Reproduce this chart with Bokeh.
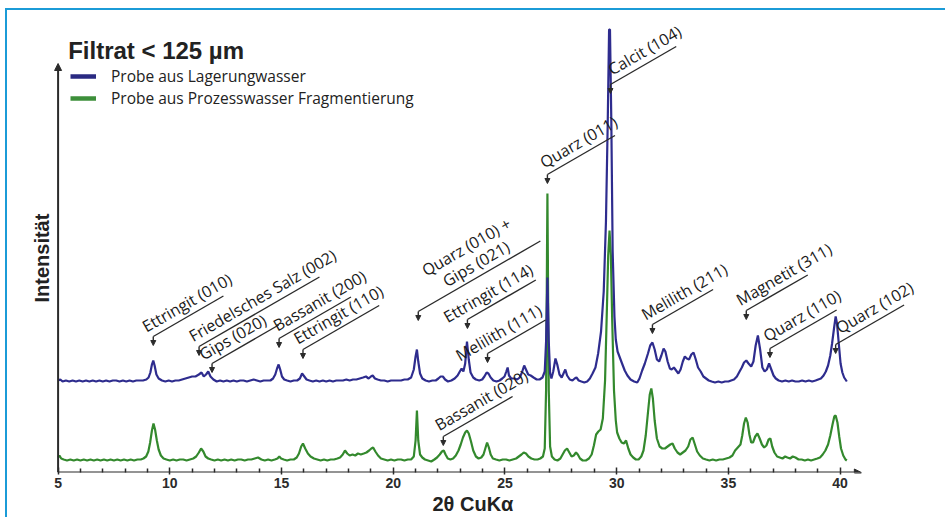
import math
from bokeh.plotting import figure
from bokeh.models import (Range1d, Label, Arrow, NormalHead, FixedTicker, Legend, LegendItem,
                          ColumnDataSource, Title)
from bokeh.core.properties import value
from bokeh.embed import file_html
from bokeh.resources import INLINE

# ---------------- data (2theta in degrees, intensity in arbitrary units) ----------------
blue_name = "Probe aus Lagerungwasser"
green_name = "Probe aus Prozesswasser Fragmentierung"
blue_offset = 91     # vertical offset of the upper trace
green_offset = 12    # vertical offset of the lower trace

blue_points = [
    (5.00, 1), (5.10, 2), (5.20, 0), (5.35, 1), (5.50, 0), (5.65, 1), (5.80, 0), (5.95, 1), (6.10, 0), (6.25, 1),
    (6.40, 0), (6.55, 1), (6.70, 0), (6.85, 1), (7.00, 0), (7.15, 1), (7.30, 0), (7.45, 1), (7.60, 1), (7.75, 0),
    (7.90, 1), (8.05, 0), (8.20, 1), (8.35, 0), (8.50, 1), (8.65, 1), (8.80, 1), (8.95, 2), (9.05, 4), (9.13, 9),
    (9.20, 17), (9.26, 21), (9.32, 16), (9.40, 7), (9.50, 3), (9.65, 1), (9.80, 0), (9.95, 1), (10.10, 0), (10.25, 1),
    (10.40, 1), (10.55, 2), (10.70, 3), (10.85, 4), (11.00, 5), (11.15, 5), (11.30, 7), (11.42, 9), (11.52, 5), (11.62, 7),
    (11.72, 10), (11.82, 5), (11.95, 2), (12.10, 0), (12.25, 1), (12.40, 0), (12.55, 1), (12.70, 0), (12.85, 1), (13.00, 0),
    (13.15, 1), (13.30, 1), (13.45, 0), (13.60, 1), (13.75, 2), (13.90, 1), (14.05, 0), (14.20, 1), (14.35, 1), (14.50, 1),
    (14.62, 3), (14.72, 7), (14.80, 13), (14.87, 17), (14.94, 12), (15.02, 5), (15.12, 2), (15.25, 1), (15.40, 0), (15.55, 1),
    (15.70, 1), (15.82, 3), (15.92, 8), (16.02, 5), (16.12, 2), (16.25, 1), (16.40, 0), (16.55, 1), (16.70, 0), (16.85, 1),
    (17.00, 0), (17.15, 1), (17.30, 0), (17.45, 1), (17.60, 1), (17.75, 1), (17.90, 2), (18.05, 1), (18.20, 2), (18.35, 2),
    (18.50, 3), (18.65, 4), (18.78, 5), (18.90, 3), (19.00, 5), (19.08, 6), (19.18, 3), (19.30, 2), (19.45, 1), (19.60, 1),
    (19.75, 0), (19.90, 1), (20.05, 1), (20.20, 1), (20.35, 1), (20.50, 2), (20.65, 2), (20.80, 4), (20.92, 12), (21.00, 25),
    (21.06, 32), (21.12, 20), (21.20, 8), (21.30, 3), (21.45, 1), (21.60, 0), (21.75, 1), (21.90, 1), (22.02, 3), (22.12, 5),
    (22.22, 5), (22.32, 2), (22.45, 0), (22.60, 1), (22.75, 3), (22.88, 6), (22.98, 10), (23.06, 13), (23.14, 10), (23.22, 18),
    (23.30, 40), (23.38, 22), (23.46, 9), (23.58, 4), (23.70, 2), (23.85, 1), (23.98, 2), (24.08, 5), (24.18, 9), (24.26, 8),
    (24.36, 4), (24.48, 1), (24.62, 0), (24.76, 1), (24.88, 3), (24.98, 5), (25.06, 10), (25.12, 14), (25.18, 6), (25.28, 3),
    (25.42, 3), (25.55, 2), (25.66, 4), (25.76, 9), (25.86, 16), (25.94, 12), (26.04, 7), (26.15, 6), (26.28, 4), (26.42, 2),
    (26.55, 2), (26.68, 4), (26.78, 10), (26.84, 40), (26.90, 104), (26.96, 40), (27.02, 8), (27.08, 3), (27.16, 10), (27.26, 23),
    (27.34, 17), (27.44, 7), (27.54, 4), (27.62, 8), (27.70, 12), (27.78, 6), (27.90, 2), (28.02, 1), (28.12, 3), (28.20, 4),
    (28.30, 1), (28.42, 0), (28.55, -1), (28.68, 0), (28.80, 3), (28.92, 8), (29.05, 14), (29.17, 28), (29.30, 50), (29.42, 90),
    (29.52, 160), (29.60, 260), (29.66, 352), (29.70, 352), (29.76, 260), (29.82, 130), (29.90, 65), (29.96, 42), (30.04, 30), (30.14, 24),
    (30.24, 18), (30.36, 11), (30.48, 6), (30.62, 2), (30.78, 0), (30.92, -1), (31.02, 3), (31.14, 11), (31.26, 18), (31.40, 28),
    (31.50, 36), (31.60, 39), (31.70, 32), (31.80, 22), (31.90, 20), (32.00, 26), (32.10, 33), (32.18, 30), (32.28, 20), (32.38, 13),
    (32.46, 12), (32.56, 14), (32.66, 11), (32.76, 8), (32.86, 12), (32.96, 20), (33.05, 25), (33.14, 23), (33.24, 22), (33.34, 27),
    (33.44, 29), (33.54, 22), (33.64, 14), (33.76, 10), (33.88, 5), (34.00, 3), (34.12, 1), (34.25, 0), (34.40, -1), (34.55, 0),
    (34.70, -1), (34.85, 0), (35.00, 0), (35.12, 1), (35.25, 2), (35.38, 5), (35.50, 10), (35.60, 14), (35.70, 19), (35.80, 21),
    (35.90, 18), (36.02, 15), (36.12, 20), (36.22, 36), (36.32, 46), (36.42, 32), (36.52, 14), (36.62, 10), (36.72, 12), (36.82, 18),
    (36.92, 12), (37.02, 6), (37.12, 3), (37.25, 1), (37.40, 0), (37.55, 1), (37.70, 0), (37.85, 1), (38.00, 0), (38.15, 0),
    (38.30, 1), (38.45, 0), (38.60, 1), (38.75, 0), (38.90, 1), (39.02, 2), (39.14, 3), (39.26, 6), (39.36, 10), (39.46, 16),
    (39.56, 26), (39.64, 38), (39.72, 52), (39.80, 65), (39.86, 58), (39.94, 38), (40.02, 18), (40.10, 9), (40.18, 4), (40.30, 0),
]

green_points = [
    (5.00, 3), (5.06, 5), (5.14, 2), (5.25, 1), (5.40, 0), (5.55, 1), (5.70, 0), (5.85, 1), (6.00, 0), (6.15, 1),
    (6.30, 0), (6.45, 1), (6.60, 0), (6.75, 1), (6.90, 0), (7.05, 1), (7.20, 0), (7.35, 1), (7.50, 0), (7.65, 1),
    (7.80, 0), (7.95, 1), (8.10, 0), (8.25, 1), (8.40, 0), (8.55, 1), (8.70, 1), (8.82, 2), (8.94, 4), (9.04, 9),
    (9.12, 18), (9.20, 30), (9.27, 37), (9.34, 31), (9.42, 20), (9.50, 11), (9.60, 5), (9.72, 2), (9.85, 1), (10.00, 0),
    (10.15, 1), (10.30, 0), (10.45, 1), (10.60, 1), (10.75, 0), (10.90, 1), (11.05, 2), (11.18, 4), (11.30, 8), (11.40, 12),
    (11.50, 9), (11.60, 4), (11.72, 2), (11.85, 1), (12.00, 0), (12.15, 1), (12.30, 0), (12.45, 1), (12.60, 0), (12.75, 1),
    (12.90, 0), (13.05, 1), (13.20, 1), (13.35, 0), (13.50, 1), (13.65, 1), (13.80, 2), (13.95, 3), (14.10, 1), (14.25, 0),
    (14.40, 1), (14.55, 0), (14.70, 1), (14.82, 2), (14.90, 4), (14.98, 2), (15.10, 1), (15.25, 0), (15.40, 1), (15.55, 1),
    (15.68, 3), (15.78, 7), (15.88, 14), (15.96, 17), (16.06, 12), (16.18, 7), (16.30, 4), (16.45, 2), (16.60, 1), (16.75, 0),
    (16.90, 1), (17.05, 0), (17.20, 1), (17.35, 1), (17.50, 2), (17.62, 3), (17.74, 6), (17.84, 10), (17.94, 7), (18.05, 5),
    (18.18, 6), (18.30, 5), (18.42, 7), (18.55, 6), (18.68, 7), (18.80, 8), (18.92, 10), (19.02, 12), (19.10, 13), (19.20, 9),
    (19.32, 5), (19.45, 2), (19.60, 1), (19.75, 0), (19.90, 1), (20.05, 0), (20.20, 1), (20.35, 1), (20.50, 0), (20.65, 1),
    (20.80, 1), (20.92, 4), (21.00, 20), (21.06, 50), (21.12, 20), (21.20, 6), (21.30, 3), (21.42, 1), (21.56, 0), (21.70, -1),
    (21.84, 1), (21.96, 3), (22.08, 6), (22.18, 9), (22.26, 10), (22.34, 6), (22.44, 2), (22.56, 1), (22.68, 2), (22.80, 5),
    (22.92, 10), (23.02, 16), (23.12, 23), (23.22, 28), (23.30, 30), (23.38, 27), (23.48, 19), (23.58, 10), (23.70, 4), (23.82, 2),
    (23.94, 3), (24.04, 6), (24.12, 12), (24.20, 18), (24.28, 13), (24.36, 6), (24.46, 2), (24.60, 1), (24.75, 0), (24.90, 1),
    (25.05, 1), (25.20, 0), (25.35, 1), (25.50, 2), (25.62, 4), (25.74, 6), (25.84, 8), (25.94, 7), (26.05, 4), (26.18, 2),
    (26.32, 1), (26.46, 1), (26.58, 2), (26.70, 4), (26.78, 12), (26.84, 70), (26.90, 267), (26.96, 70), (27.02, 14), (27.10, 4),
    (27.22, 1), (27.35, 0), (27.48, 2), (27.58, 6), (27.68, 10), (27.78, 12), (27.88, 8), (27.98, 4), (28.08, 5), (28.18, 8),
    (28.26, 6), (28.36, 2), (28.48, 0), (28.62, 0), (28.76, 2), (28.88, 6), (28.98, 15), (29.08, 26), (29.18, 29), (29.28, 31),
    (29.38, 42), (29.48, 80), (29.56, 150), (29.62, 205), (29.68, 230), (29.74, 205), (29.80, 140), (29.88, 70), (29.96, 40), (30.02, 28),
    (30.12, 22), (30.22, 18), (30.32, 17), (30.42, 20), (30.52, 12), (30.62, 6), (30.74, 3), (30.86, 1), (30.98, 1), (31.10, 4),
    (31.20, 10), (31.30, 25), (31.40, 48), (31.48, 66), (31.55, 72), (31.62, 62), (31.70, 40), (31.80, 22), (31.92, 14), (32.04, 12),
    (32.16, 12), (32.28, 14), (32.40, 16), (32.50, 17), (32.60, 12), (32.72, 8), (32.84, 6), (32.96, 8), (33.08, 10), (33.20, 14),
    (33.30, 21), (33.40, 23), (33.50, 16), (33.60, 9), (33.72, 5), (33.86, 2), (34.00, 1), (34.15, 0), (34.30, 1), (34.45, 0),
    (34.60, 1), (34.75, 1), (34.90, 2), (35.05, 3), (35.18, 5), (35.30, 10), (35.42, 13), (35.54, 16), (35.62, 25), (35.70, 37),
    (35.78, 43), (35.86, 38), (35.94, 26), (36.02, 18), (36.10, 18), (36.20, 24), (36.30, 27), (36.40, 22), (36.50, 16), (36.60, 13),
    (36.70, 15), (36.80, 21), (36.88, 22), (36.96, 14), (37.06, 8), (37.18, 4), (37.30, 3), (37.42, 2), (37.54, 4), (37.64, 3),
    (37.76, 2), (37.88, 4), (38.00, 3), (38.14, 1), (38.28, 1), (38.42, 0), (38.56, 1), (38.70, 0), (38.84, 1), (38.98, 2),
    (39.10, 3), (39.22, 6), (39.34, 10), (39.46, 16), (39.56, 25), (39.66, 36), (39.74, 44), (39.80, 45), (39.88, 38), (39.96, 24),
    (40.04, 12), (40.14, 5), (40.24, 1), (40.30, 0),
]

x_major_ticks = [5, 10, 15, 20, 25, 30, 35, 40]
x_minor_ticks = [v for v in range(6, 40) if v % 5 != 0]

# reflex annotations: label, 2theta of the reflex, height of the arrow tip
ann_text = ["Ettringit (010)", "Friedelsches Salz (002)", "Gips (020)", "Bassanit (200)", "Ettringit (110)",
            "Quarz (010) +\nGips (021)", "Ettringit (114)", "Melilith (111)", "Bassanit (020)", "Quarz (011)",
            "Calcit (104)", "Melilith (211)", "Magnetit (311)", "Quarz (110)", "Quarz (102)"]
ann_pos = [9.26, 11.31, 11.89, 14.89, 15.96, 21.12, 23.32, 24.22, 22.24, 26.90, 29.72, 31.60, 35.80, 36.86, 39.80]
ann_tip = [127, 117, 100, 125, 114, 152, 144, 110, 27, 289, 379, 139, 153, 115, 119]

# ---------------- layout / style constants ----------------
X0, X1 = 4.75, 44.0
FRAME_W, FRAME_H = 877, 450
W, H = 940, 509
LEFT, TOP = 45, 12
SX = FRAME_W / (X1 - X0)          # px per degree
ANG = math.radians(30)
CA, SA = math.cos(ANG), math.sin(ANG)
lead_len = [81, 139, 77, 83, 88, 141, 79, 67, 80, 78, 76, 70, 71, 77, 79]
text_shift = [-4, -3, -6, 2, -2, 74, -19, -28, -1, 0, 6, -4, -3, 1, 9]
GAP = 12.5
STEM = 9
BLUE = "#2e2c8e"
GREEN = "#33892d"
INK = "#2b2b2b"
FRAME_BLUE = "#1b9bd7"

p = figure(width=W, height=H, x_range=Range1d(X0, X1), y_range=Range1d(0, FRAME_H),
           output_backend="svg", toolbar_location=None, y_axis_location=None,
           min_border_left=LEFT, min_border_right=W - LEFT - FRAME_W, min_border_top=TOP,
           min_border_bottom=H - TOP - FRAME_H)
p.styles = {"margin-left": "5px", "margin-top": "8px",
            "border-top": f"2px solid {FRAME_BLUE}", "border-left": f"2px solid {FRAME_BLUE}"}
p.outline_line_color = None
p.grid.visible = False

# x axis
xa = p.xaxis[0]
xa.ticker = FixedTicker(ticks=x_major_ticks, minor_ticks=x_minor_ticks)
xa.axis_line_color = None
xa.major_tick_line_color = INK
xa.minor_tick_line_color = INK
xa.major_tick_line_width = 1.5
xa.minor_tick_line_width = 1.5
xa.major_tick_in = 5
xa.major_tick_out = 2
xa.minor_tick_in = 4
xa.minor_tick_out = 0
xa.major_label_text_font = "Liberation Sans"
xa.major_label_text_font_style = "bold"
xa.major_label_text_font_size = "14px"
xa.major_label_text_color = INK
xa.major_label_standoff = 3

# axis arrows
head = dict(size=7, fill_color=INK, line_color=INK)
p.add_layout(Arrow(end=NormalHead(**head), x_start=5, y_start=0, x_end=5, y_end=409,
                   line_color=INK, line_width=2))
p.add_layout(Arrow(end=NormalHead(**head), x_start=5, y_start=0, x_end=40.95, y_end=0,
                   line_color=INK, line_width=2))

# traces
gx = [pt[0] for pt in green_points]
gy = [pt[1] + green_offset for pt in green_points]
bx = [pt[0] for pt in blue_points]
by = [pt[1] + blue_offset for pt in blue_points]
p.line(gx, gy, line_color=GREEN, line_width=2.2)
p.line(bx, by, line_color=BLUE, line_width=2.2)

# legend (swatch renderers lie outside the visible range)
rb = p.line([0, 1], [-100, -100], line_color="#2a2a82", line_width=4.5)
rg = p.line([0, 1], [-100, -100], line_color="#3d8f3a", line_width=4.5)
leg = Legend(items=[LegendItem(label=blue_name, renderers=[rb]),
                    LegendItem(label=green_name, renderers=[rg])],
             location=(18, 363), padding=0, margin=0, spacing=0,
             glyph_width=26, glyph_height=20, label_height=20, label_standoff=15,
             border_line_color=None, background_fill_alpha=0,
             label_text_font="Open Sans", label_text_font_size="15.5px", label_text_color="#222222")
p.add_layout(leg)

# reflex annotations
lead_xs, lead_ys = [], []
tx, ty, tt, talign = [], [], [], []
for name, pos, tip, L, s in zip(ann_text, ann_pos, ann_tip, lead_len, text_shift):
    xc, yc = pos, tip + STEM
    lead_xs.append([xc, xc + L * CA / SX])
    lead_ys.append([yc, yc + L * SA])
    p.add_layout(Arrow(end=NormalHead(size=5, fill_color=INK, line_color=INK),
                       x_start=xc, y_start=yc, x_end=xc, y_end=tip,
                       line_color=INK, line_width=1.4))
    lines = name.split("\n")
    for k, line in enumerate(reversed(lines)):
        d = GAP + 19.5 * k
        tx.append(xc + (s * CA - d * SA) / SX)
        ty.append(yc + s * SA + d * CA)
        tt.append(line)
        talign.append("center" if len(lines) > 1 else "left")

p.multi_line(lead_xs, lead_ys, line_color=INK, line_width=1.4)
src = ColumnDataSource(dict(x=tx, y=ty, text=tt, align=talign))
p.text(x="x", y="y", text="text", source=src, angle=ANG, text_align="align",
       text_baseline="alphabetic", text_font=value("Open Sans"), text_font_size="16px",
       text_color="#1a1a1a")

# title and axis labels
p.add_layout(Label(x=5.45, y=409, text="Filtrat < 125 µm", text_font="Liberation Sans",
                   text_font_style="bold", text_font_size="24px", text_color="#222222",
                   text_baseline="bottom"))
p.add_layout(Title(text="2θ CuKα", align="left", offset=380, standoff=0,
                   text_font="Liberation Sans", text_font_style="bold", text_font_size="20px",
                   text_color="#222222"), "below")
p.add_layout(Title(text="Intensität", align="left", offset=170, standoff=0,
                   text_font="Liberation Sans", text_font_style="bold", text_font_size="20px",
                   text_color="#222222"), "left")

open("out.html", "w").write(file_html(p, INLINE))
